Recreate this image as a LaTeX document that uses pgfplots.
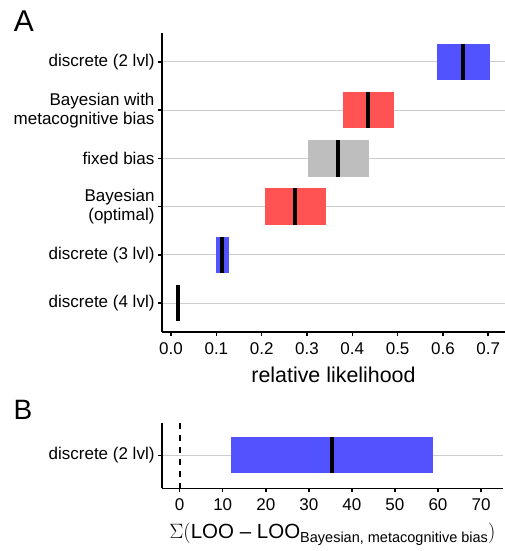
\documentclass[border=0pt]{standalone}
\usepackage{fontspec}
\setmainfont{Liberation Sans}
\usepackage{pgfplots}
\pgfplotsset{compat=1.18}
\definecolor{cblue}{RGB}{82,82,255}
\definecolor{cred}{RGB}{255,82,82}
\definecolor{cgray}{RGB}{190,190,190}
\definecolor{gridc}{RGB}{205,205,205}
\pgfplotsset{common/.style={
  scale only axis, axis lines=left, axis line style={-, line width=1.5pt, black},
  tick align=outside, major tick length=4pt, tick style={line width=1.5pt, black},
  ymajorgrids, grid style={gridc, line width=0.9pt},
  /pgf/number format/assume math mode=true,
  xticklabel style={font=\fontsize{17}{19}\selectfont, yshift=-3pt},
  yticklabel style={font=\fontsize{17}{19}\selectfont, align=right},
  clip=false
}}
\begin{document}
\begin{tikzpicture}
\path[use as bounding box] (0pt,0pt) rectangle (505pt,-551pt);
\node[font=\fontsize{30}{30}\selectfont] at (24pt,-21pt) {A};
\node[font=\fontsize{28}{28}\selectfont] at (23pt,-410pt) {B};
\begin{axis}[common, at={(162pt,-332pt)}, anchor=south west,
  width=343pt, height=299pt,
  xmin=-0.02, xmax=0.737, ymin=0.4, ymax=6.6,
  xtick={0,0.1,0.2,0.3,0.4,0.5,0.6,0.7},
  xticklabel style={/pgf/number format/fixed, /pgf/number format/fixed zerofill, /pgf/number format/precision=1},
  ytick={1,2,3,4,5,6},
  yticklabels={discrete (4 lvl), discrete (3 lvl), {Bayesian\\(optimal)}, fixed bias, {Bayesian with\\metacognitive bias}, discrete (2 lvl)},
  xlabel={relative likelihood},
  xlabel style={font=\fontsize{21.4}{23}\selectfont, yshift=-6pt}]
% boxes
\addplot[fill=cblue, draw=none] coordinates {(0.587,5.623) (0.704,5.623) (0.704,6.377) (0.587,6.377)} -- cycle;
\addplot[fill=cred, draw=none] coordinates {(0.380,4.623) (0.491,4.623) (0.491,5.377) (0.380,5.377)} -- cycle;
\addplot[fill=cgray, draw=none] coordinates {(0.302,3.623) (0.436,3.623) (0.436,4.377) (0.302,4.377)} -- cycle;
\addplot[fill=cred, draw=none] coordinates {(0.207,2.623) (0.341,2.623) (0.341,3.377) (0.207,3.377)} -- cycle;
\addplot[fill=cblue, draw=none] coordinates {(0.099,1.623) (0.127,1.623) (0.127,2.377) (0.099,2.377)} -- cycle;
\addplot[fill=cblue, draw=none] coordinates {(0.013,0.623) (0.017,0.623) (0.017,1.377) (0.013,1.377)} -- cycle;
% medians
\addplot[black, line width=4pt] coordinates {(0.645,5.623) (0.645,6.377)};
\addplot[black, line width=4pt] coordinates {(0.435,4.623) (0.435,5.377)};
\addplot[black, line width=4pt] coordinates {(0.369,3.623) (0.369,4.377)};
\addplot[black, line width=4pt] coordinates {(0.274,2.623) (0.274,3.377)};
\addplot[black, line width=4pt] coordinates {(0.112,1.623) (0.112,2.377)};
\addplot[black, line width=4pt] coordinates {(0.015,0.623) (0.015,1.377)};
\end{axis}
\begin{axis}[common, at={(162pt,-488.3pt)}, anchor=south west,
  width=341pt, height=65pt,
  xmin=-4.1, xmax=75.1, ymin=0.31, ymax=1.667,
  xtick={0,10,20,30,40,50,60,70},
  ytick={1}, yticklabels={discrete (2 lvl)},
  xlabel={$\Sigma($LOO – LOO\raisebox{-4.5pt}{\fontsize{14.5}{15}\selectfont Bayesian, metacognitive bias}$)$},
  xlabel style={font=\fontsize{20.5}{22}\selectfont, yshift=-5pt}]
\addplot[black, line width=2pt, dash pattern=on 6pt off 6pt] coordinates {(0,1.667) (0,0.31)};
\addplot[fill=cblue, draw=none] coordinates {(12.0,0.623) (58.9,0.623) (58.9,1.377) (12.0,1.377)} -- cycle;
\addplot[black, line width=4pt] coordinates {(35.4,0.623) (35.4,1.377)};
\end{axis}
\end{tikzpicture}
\end{document}
